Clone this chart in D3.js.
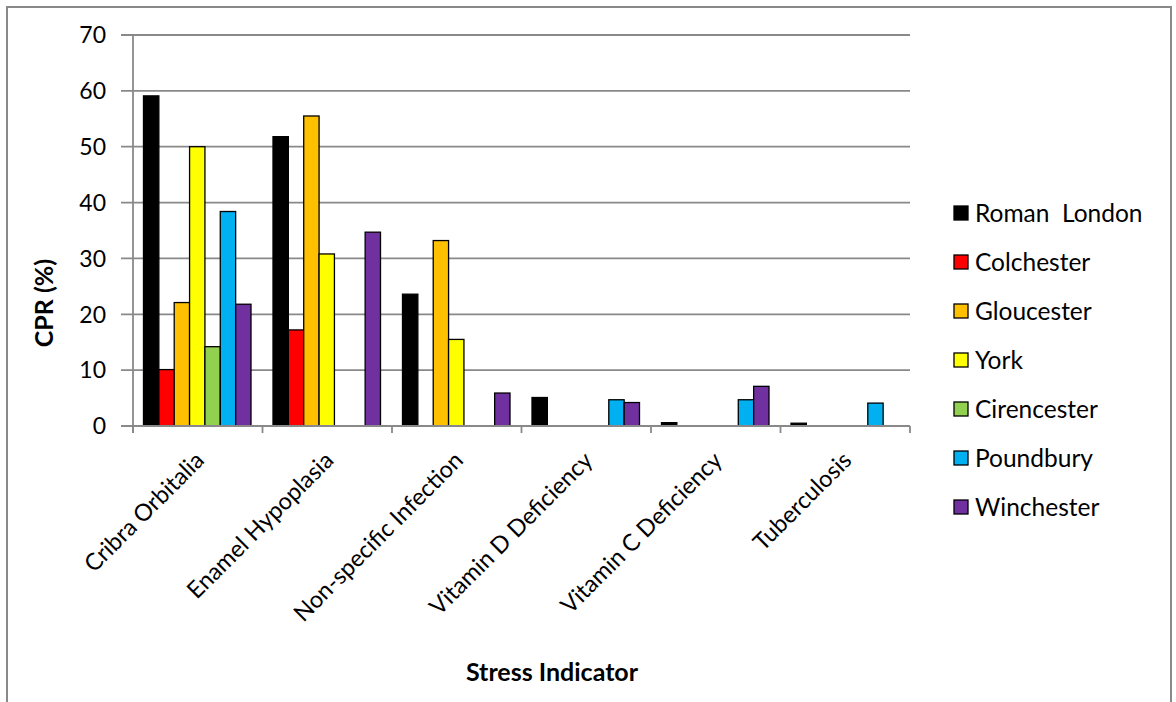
<!DOCTYPE html>
<html>
<head>
<meta charset="utf-8">
<script src="https://cdn.jsdelivr.net/npm/d3@7"></script>
<style>
  body { margin: 0; background: #fff; }
  svg text { font-family: Lato, "Open Sans", sans-serif; fill: #000; }
</style>
</head>
<body>
<svg id="chart" width="1176" height="702"></svg>
<script>
// categorias e séries
const indicators = ["Cribra Orbitalia", "Enamel Hypoplasia", "Non-specific Infection",
  "Vitamin D Deficiency", "Vitamin C Deficiency", "Tuberculosis"];
const sites = ["Roman  London", "Colchester", "Gloucester", "York", "Cirencester", "Poundbury", "Winchester"];
const siteColors = ["#000000", "#ff0000", "#ffc000", "#ffff00", "#92d050", "#00b0f0", "#7030a0"];

// valores por sítio (mesma ordem de indicators), null = sem barra
const romanLondon = [59.1, 51.8, 23.6, 5.1, 0.6, 0.5];
const colchester  = [10.1, 17.2, null, null, null, null];
const gloucester  = [22.1, 55.5, 33.2, null, null, null];
const york        = [50.0, 30.8, 15.5, null, null, null];
const cirencester = [14.2, null, null, null, null, null];
const poundbury   = [38.4, null, null, 4.7, 4.7, 4.1];
const winchester  = [21.8, 34.7, 5.9, 4.2, 7.1, null];
const seriesValues = [romanLondon, colchester, gloucester, york, cirencester, poundbury, winchester];

const yTicks = [0, 10, 20, 30, 40, 50, 60, 70];

const svg = d3.select("#chart");
const grid = "#898989";

// moldura externa
svg.append("rect")
  .attr("x", 7).attr("y", 7)
  .attr("width", 1164).attr("height", 720)
  .attr("fill", "none")
  .attr("stroke", grid)
  .attr("stroke-width", 2);

const plot = { left: 133, right: 910, top: 35, bottom: 426 };

const x0 = d3.scaleBand()
  .domain(indicators)
  .range([plot.left, plot.right]);

const x1 = d3.scaleBand()
  .domain(sites)
  .range([10.5, x0.bandwidth() - 11.5]);

const y = d3.scaleLinear()
  .domain([0, 70])
  .range([plot.bottom, plot.top]);

// linhas de grade
svg.append("g")
  .selectAll("line")
  .data(yTicks)
  .join("line")
    .attr("x1", plot.left - 12)
    .attr("x2", plot.right)
    .attr("y1", d => y(d))
    .attr("y2", d => y(d))
    .attr("stroke", grid)
    .attr("stroke-width", 1.8);

// rótulos do eixo Y
svg.append("g")
  .selectAll("text")
  .data(yTicks)
  .join("text")
    .attr("x", 106)
    .attr("y", d => y(d))
    .attr("dy", "0.36em")
    .attr("text-anchor", "end")
    .style("font-size", "23px")
    .text(d => d);

// eixo Y
svg.append("line")
  .attr("x1", plot.left).attr("x2", plot.left)
  .attr("y1", plot.top).attr("y2", plot.bottom + 7)
  .attr("stroke", grid).attr("stroke-width", 1.8);

// barras
const groups = svg.append("g")
  .selectAll("g")
  .data(indicators)
  .join("g")
    .attr("transform", d => `translate(${x0(d)},0)`);

groups.selectAll("rect")
  .data((d, i) => sites.map((s, j) => ({ site: s, color: siteColors[j], value: seriesValues[j][i] }))
    .filter(e => e.value !== null))
  .join("rect")
    .attr("x", d => x1(d.site))
    .attr("y", d => y(d.value))
    .attr("width", x1.bandwidth())
    .attr("height", d => y(0) - y(d.value))
    .attr("fill", d => d.color)
    .attr("stroke", "#000")
    .attr("stroke-width", 1.3);

// eixo X
svg.append("line")
  .attr("x1", plot.left).attr("x2", plot.right)
  .attr("y1", plot.bottom).attr("y2", plot.bottom)
  .attr("stroke", grid).attr("stroke-width", 1.8);

svg.append("g")
  .selectAll("line")
  .data(d3.range(indicators.length + 1))
  .join("line")
    .attr("x1", i => plot.left + i * x0.step())
    .attr("x2", i => plot.left + i * x0.step())
    .attr("y1", plot.bottom)
    .attr("y2", plot.bottom + 7)
    .attr("stroke", grid).attr("stroke-width", 1.8);

// rótulos das categorias
svg.append("g")
  .selectAll("text")
  .data(indicators)
  .join("text")
    .attr("transform", d => `translate(${x0(d) + x0.bandwidth() / 2 + 2},${plot.bottom + 30}) rotate(-45)`)
    .attr("text-anchor", "end")
    .attr("dy", "0.35em")
    .style("font-size", "23.5px")
    .text(d => d);

// títulos dos eixos
svg.append("text")
  .attr("transform", "translate(53,303) rotate(-90)")
  .attr("text-anchor", "middle")
  .style("font-size", "25px")
  .style("font-weight", "bold")
  .text("CPR (%)");

svg.append("text")
  .attr("x", 552)
  .attr("y", 681)
  .attr("text-anchor", "middle")
  .style("font-size", "25px")
  .style("font-weight", "bold")
  .text("Stress Indicator");

// legenda
const legend = svg.append("g")
  .selectAll("g")
  .data(sites)
  .join("g")
    .attr("transform", (d, i) => `translate(954,${213 + i * 49})`);

legend.append("rect")
  .attr("x", 0).attr("y", -7)
  .attr("width", 14).attr("height", 14)
  .attr("fill", (d, i) => siteColors[i])
  .attr("stroke", "#000")
  .attr("stroke-width", 1.3);

legend.append("text")
  .attr("x", 21)
  .attr("dy", "0.36em")
  .style("font-size", "24.5px")
  .style("white-space", "pre")
  .attr("xml:space", "preserve")
  .text(d => d);
</script>
</body>
</html>
